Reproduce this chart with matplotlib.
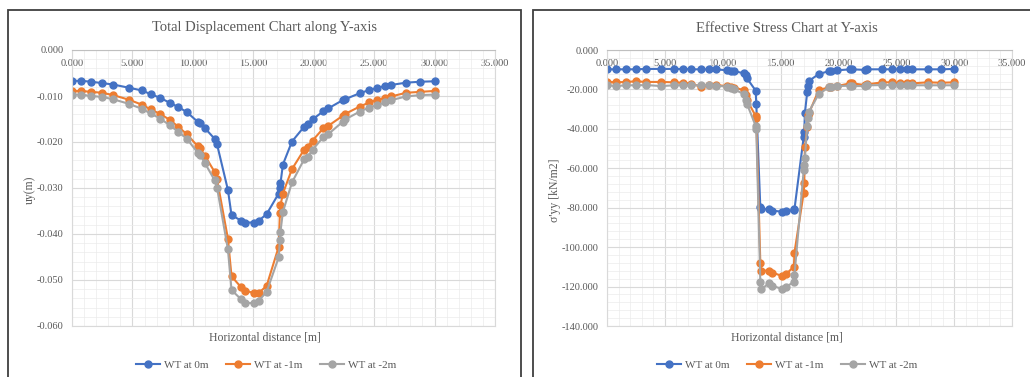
import matplotlib
matplotlib.use("Agg")
import matplotlib.pyplot as plt
from matplotlib.patches import Rectangle
from matplotlib.ticker import MultipleLocator, FuncFormatter

plt.rcParams['font.family'] = ['Liberation Serif', 'DejaVu Serif']
plt.rcParams['axes.unicode_minus'] = False

series_names = ['WT at 0m', 'WT at -1m', 'WT at -2m']
colors = ['#4472C4', '#ED7D31', '#A5A5A5']

# displacement uy (m) along the section
x_disp = [0, 0.77, 1.6, 2.5, 3.4, 4.7, 5.8, 6.5, 7.3, 8.1, 8.8, 9.5, 10.4, 10.6, 11.0,
          11.8, 12.0, 12.9, 13.2, 14.0, 14.35, 15.1, 15.45, 16.1, 17.1, 17.2, 17.25,
          17.45, 18.2, 19.2, 19.5, 19.9, 20.8, 21.2, 22.4, 22.6, 23.8, 24.6, 25.2,
          25.9, 26.4, 27.65, 28.8, 30.0]
uy_wt0 = [-0.0067, -0.0067, -0.0069, -0.0072, -0.0075, -0.0082, -0.0088, -0.0096,
          -0.0104, -0.0115, -0.0124, -0.0135, -0.0156, -0.0159, -0.0170, -0.0193,
          -0.0205, -0.0304, -0.0359, -0.0371, -0.0375, -0.0375, -0.0371, -0.0357,
          -0.0312, -0.0300, -0.0290, -0.0249, -0.0199, -0.0167, -0.0161, -0.0151,
          -0.0133, -0.0127, -0.0109, -0.0107, -0.0094, -0.0087, -0.0083, -0.0078,
          -0.0076, -0.0071, -0.0069, -0.0068]
uy_wt1 = [-0.0089, -0.0089, -0.0091, -0.0093, -0.0098, -0.0108, -0.0119, -0.0129,
          -0.0139, -0.0152, -0.0167, -0.0183, -0.0209, -0.0214, -0.0230, -0.0265,
          -0.0281, -0.0410, -0.0492, -0.0516, -0.0523, -0.0529, -0.0528, -0.0513,
          -0.0428, -0.0355, -0.0338, -0.0312, -0.0259, -0.0217, -0.0210, -0.0197,
          -0.0170, -0.0165, -0.0143, -0.0139, -0.0123, -0.0114, -0.0109, -0.0104,
          -0.0101, -0.0093, -0.0091, -0.0089]
uy_wt2 = [-0.0097, -0.0097, -0.0100, -0.0102, -0.0107, -0.0117, -0.0128, -0.0138,
          -0.0149, -0.0164, -0.0178, -0.0193, -0.0223, -0.0228, -0.0246, -0.0283,
          -0.0299, -0.0433, -0.0522, -0.0542, -0.0549, -0.0551, -0.0545, -0.0526,
          -0.0451, -0.0414, -0.0395, -0.0352, -0.0288, -0.0238, -0.0232, -0.0217,
          -0.0189, -0.0183, -0.0156, -0.0151, -0.0134, -0.0125, -0.0120, -0.0114,
          -0.0109, -0.0101, -0.0098, -0.0097]

# effective vertical stress (kN/m2)
x_stress = [0, 0.8, 1.6, 2.5, 3.4, 4.7, 5.8, 6.6, 7.3, 8.1, 8.8, 9.4, 10.4, 10.7, 11.0,
            11.8, 12.0, 12.1, 12.85, 12.9, 13.25, 13.3, 14.0, 14.3, 15.1, 15.45, 16.15,
            16.2, 17.0, 17.05, 17.1, 17.3, 17.35, 17.45, 18.3, 19.2, 19.4, 19.9, 21.0,
            21.2, 22.3, 22.5, 23.8, 24.6, 25.3, 25.9, 26.4, 27.7, 28.9, 30.0]
syy_wt0 = [-9.8, -9.8, -9.8, -9.8, -9.6, -9.6, -9.6, -9.6, -9.8, -9.8, -9.8, -9.8,
           -10.3, -10.5, -10.7, -11.8, -12.9, -14.4, -20.6, -27.4, -79.8, -80.8,
           -80.7, -81.5, -82.0, -81.7, -81.3, -80.8, -44.0, -41.4, -32.1, -21.5,
           -18.5, -15.7, -12.2, -10.7, -10.5, -10.3, -9.8, -9.8, -10.1, -9.8,
           -9.8, -9.8, -9.8, -9.8, -9.8, -9.8, -9.8, -9.6]
syy_wt1 = [-16.1, -16.4, -16.2, -15.9, -16.2, -16.2, -16.4, -16.6, -17.1, -18.6, -17.8,
           -17.8, -18.3, -18.6, -19.1, -20.3, -22.8, -25.4, -33.5, -34.7, -107.9,
           -111.9, -111.9, -112.9, -114.6, -113.8, -109.9, -102.8, -72.4, -67.3,
           -49.4, -38.9, -33.0, -32.1, -20.3, -18.9, -18.6, -18.3, -16.9, -16.9,
           -17.8, -17.4, -16.4, -16.4, -16.9, -16.9, -16.9, -16.4, -16.6, -16.4]
syy_wt2 = [-17.9, -18.3, -17.9, -17.9, -17.8, -18.3, -17.9, -17.9, -17.9, -17.9, -17.8,
           -18.1, -18.6, -19.1, -20.0, -22.3, -25.4, -27.4, -38.5, -40.2, -117.5,
           -121.4, -118.4, -119.7, -121.1, -120.4, -117.5, -114.1, -60.9, -58.3,
           -55.0, -38.5, -34.7, -31.3, -22.3, -18.9, -18.6, -18.3, -18.1, -18.3,
           -18.3, -17.9, -17.8, -17.8, -17.9, -17.9, -17.9, -17.9, -17.9, -17.9]

fig = plt.figure(figsize=(10.3, 3.77), dpi=100)

# chart frames
fig.patches.append(Rectangle((8 / 1030, -0.1), 513 / 1030, 1.1 - 10 / 377, transform=fig.transFigure,
                             fill=False, edgecolor='#3f3f3f', lw=1.3))
fig.patches.append(Rectangle((533 / 1030, -0.1), 0.6, 1.1 - 10 / 377, transform=fig.transFigure,
                             fill=False, edgecolor='#3f3f3f', lw=1.3))

ax1 = fig.add_axes([72 / 1030, 1 - 326 / 377, 423 / 1030, 276 / 377])
ax2 = fig.add_axes([607 / 1030, 1 - 326 / 377, 405 / 1030, 276 / 377])


def style_axes(ax, ymin, ymajor, fmt, title, ylabel, ylabel_x, cx):
    ax.set_xlim(0, 35)
    ax.set_ylim(ymin, 0)
    ax.xaxis.set_major_locator(MultipleLocator(5))
    ax.xaxis.set_minor_locator(MultipleLocator(1))
    ax.yaxis.set_major_locator(MultipleLocator(ymajor))
    ax.yaxis.set_minor_locator(MultipleLocator(ymajor / 5))
    ax.grid(which='major', color='#d9d9d9', lw=0.8)
    ax.grid(which='minor', color='#ebebeb', lw=0.5)
    ax.set_axisbelow(True)
    ax.xaxis.set_major_formatter(FuncFormatter(lambda v, p: '%.3f' % v))
    ax.yaxis.set_major_formatter(FuncFormatter(lambda v, p: fmt % v))
    ax.tick_params(axis='x', which='both', top=False, bottom=False, labeltop=True,
                   labelbottom=False, pad=-16.5, labelsize=7.5, labelcolor='#595959')
    ax.tick_params(axis='y', which='both', length=0, pad=6, labelsize=7.5, labelcolor='#595959')
    for s in ax.spines.values():
        s.set_color('#d9d9d9')
        s.set_linewidth(0.8)
    ax.spines['top'].set_color('#bfbfbf')
    fig.text(cx, 1 - 28 / 377, title, ha='center', va='center', fontsize=10.5, color='#595959')
    fig.text(cx, 1 - 337 / 377, 'Horizontal distance [m]', ha='center', va='center',
             fontsize=8.5, color='#595959')
    fig.text(ylabel_x, 1 - 190 / 377, ylabel, ha='center', va='center', rotation=90,
             fontsize=8.5, color='#595959')


for ax, xs, ys in [(ax1, x_disp, [uy_wt0, uy_wt1, uy_wt2]),
                   (ax2, x_stress, [syy_wt0, syy_wt1, syy_wt2])]:
    for name, c, y in zip(series_names, colors, ys):
        ax.plot(xs, y, color=c, lw=1.5, marker='o', markersize=5, label=name)

style_axes(ax1, -0.06, 0.01, '%.3f', 'Total Displacement Chart along Y-axis', 'uy(m)',
           30 / 1030, 265 / 1030)
style_axes(ax2, -140, 20, '%.3f', 'Effective Stress Chart at Y-axis', "σ'yy [kN/m2]",
           555 / 1030, 787 / 1030)

for ax, cx in [(ax1, 266 / 1030), (ax2, 787 / 1030)]:
    ax.legend(loc='center', bbox_to_anchor=(cx, 1 - 365 / 377), bbox_transform=fig.transFigure,
              ncol=3, frameon=False, fontsize=8, handlelength=2.2, columnspacing=1.6,
              handletextpad=0.3, labelcolor='#595959')

fig.savefig('out.png', dpi=100)
